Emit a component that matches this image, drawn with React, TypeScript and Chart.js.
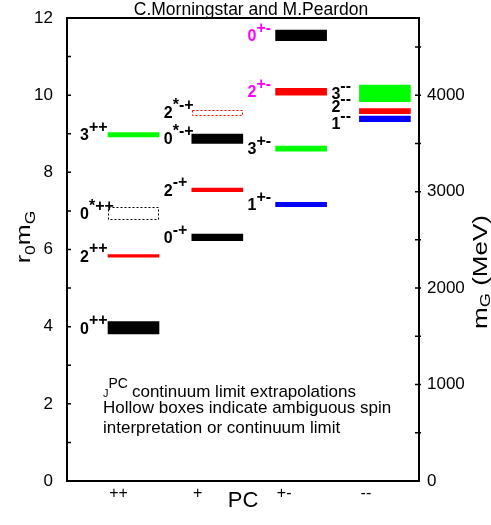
import React, { useEffect, useRef } from "react";
import { Chart, registerables } from "chart.js";

Chart.register(...registerables);

// ---------- data ----------
const CATEGORIES = ["++", "+", "+-", "--"];
const STATE_COLUMN = [1, 1, 1, 1, 2, 2, 2, 2, 3, 3, 3, 3, 4, 4, 4];
const STATE_J = ["0", "2", "0", "3", "0", "2", "0", "2", "1", "3", "2", "0", "1", "2", "3"];
const STATE_PC = ["++", "++", "*++", "++", "-+", "-+", "*-+", "*-+", "+-", "+-", "+-", "+-", "--", "--", "--"];
const STATE_LOW = [3.81, 5.8, 6.77, 8.92, 6.23, 7.5, 8.75, 9.5, 7.11, 8.55, 10.0, 11.41, 9.31, 9.52, 9.83];
const STATE_HIGH = [4.13, 5.87, 7.09, 9.03, 6.4, 7.59, 8.99, 9.62, 7.22, 8.68, 10.18, 11.69, 9.46, 9.65, 10.26];
const STATE_HOLLOW = [false, false, true, false, false, false, false, true, false, false, false, false, false, false, false];
const STATE_EXOTIC = [false, false, false, false, false, false, false, false, false, false, true, true, false, false, false];

const R0_MAX = 12;
const R0_TICKS = [0, 2, 4, 6, 8, 10, 12];
const MEV_PER_R0 = 400;
const MEV_TICKS = [0, 1000, 2000, 3000, 4000];
const TITLE = "C.Morningstar and M.Peardon";
const NOTE_LINE1 = "continuum limit extrapolations";
const NOTE_LINES = ["Hollow boxes indicate ambiguous spin", "interpretation or continuum limit"];

// ---------- styles ----------
const FONT = "'Liberation Sans', Arial, Helvetica, sans-serif";
const J_COLOR: Record<string, string> = { "0": "#000000", "1": "#0000ff", "2": "#ff0000", "3": "#00ff00" };
const EXOTIC_COLOR = "#ff00ff";

type Part = { text: string; size: number; dy: number };

function drawRotated(ctx: CanvasRenderingContext2D, parts: Part[], baseX: number, cy: number, stretch: number) {
  ctx.save();
  ctx.translate(baseX, cy);
  ctx.rotate(-Math.PI / 2);
  ctx.scale(stretch, 1);
  ctx.textAlign = "left";
  ctx.textBaseline = "alphabetic";
  let total = 0;
  const widths = parts.map((p) => {
    ctx.font = `${p.size}px ${FONT}`;
    const w = ctx.measureText(p.text).width;
    total += w;
    return w;
  });
  let x = -total / 2;
  parts.forEach((p, i) => {
    ctx.font = `${p.size}px ${FONT}`;
    ctx.fillText(p.text, x, p.dy);
    x += widths[i];
  });
  ctx.restore();
}

const overlay = {
  id: "overlay",
  afterDatasetsDraw(chart: any) {
    const ctx: CanvasRenderingContext2D = chart.ctx;
    const meta = chart.getDatasetMeta(0);
    ctx.save();
    ctx.lineWidth = 1;
    ctx.setLineDash([2, 2]);
    meta.data.forEach((el: any, i: number) => {
      if (!STATE_HOLLOW[i]) return;
      const { x, y, base, width } = el.getProps(["x", "y", "base", "width"], true);
      const top = Math.min(y, base);
      const h = Math.abs(base - y);
      ctx.strokeStyle = J_COLOR[STATE_J[i]];
      ctx.strokeRect(Math.round(x - width / 2) + 0.5, Math.round(top) + 0.5, Math.round(width) - 1, Math.round(h));
    });
    ctx.restore();
  },
  afterDraw(chart: any) {
    const ctx: CanvasRenderingContext2D = chart.ctx;
    const a = chart.chartArea;
    const ys = chart.scales.y;
    const y2 = chart.scales.y2;
    const meta = chart.getDatasetMeta(0);
    ctx.save();
    ctx.fillStyle = "#000";
    ctx.strokeStyle = "#000";

    // frame
    ctx.lineWidth = 2;
    ctx.strokeRect(a.left, a.top, a.right - a.left, a.bottom - a.top);

    // inward ticks
    ctx.lineWidth = 1.5;
    ctx.beginPath();
    for (let v = 1; v < R0_MAX; v++) {
      const p = ys.getPixelForValue(v);
      ctx.moveTo(a.left, p);
      ctx.lineTo(a.left + 4, p);
    }
    for (let v = 500; v < R0_MAX * MEV_PER_R0; v += 500) {
      const p = y2.getPixelForValue(v);
      ctx.moveTo(a.right - 4, p);
      ctx.lineTo(a.right + 2, p);
    }
    ctx.stroke();

    // state labels
    const items = meta.data.map((el: any, i: number) => {
      const { x, y, base, width } = el.getProps(["x", "y", "base", "width"], true);
      return { i, col: STATE_COLUMN[i], x: x - width / 2 - 28, orig: (y + base) / 2, pos: (y + base) / 2 };
    });
    const GAP = 17;
    for (let c = 1; c <= CATEGORIES.length; c++) {
      const g = items.filter((it: any) => it.col === c).sort((p: any, q: any) => p.orig - q.orig);
      for (let k = 1; k < g.length; k++) {
        if (g[k].pos - g[k - 1].pos < GAP) g[k].pos = g[k - 1].pos + GAP;
      }
      let start = 0;
      for (let k = 1; k <= g.length; k++) {
        if (k === g.length || g[k].pos - g[k - 1].pos > GAP + 0.01) {
          const cl = g.slice(start, k);
          if (cl.length > 1) {
            const d = cl.reduce((s: number, it: any) => s + it.orig - it.pos, 0) / cl.length;
            cl.forEach((it: any) => (it.pos += d));
          }
          start = k;
        }
      }
    }
    items.forEach((it: any) => {
      ctx.fillStyle = STATE_EXOTIC[it.i] ? EXOTIC_COLOR : "#000";
      ctx.textAlign = "left";
      ctx.textBaseline = "alphabetic";
      ctx.font = `bold 16px ${FONT}`;
      const base = it.pos + 5.7;
      ctx.fillText(STATE_J[it.i], it.x, base);
      const w = ctx.measureText(STATE_J[it.i]).width;
      ctx.fillText(STATE_PC[it.i], it.x + w, base - 8.2);
    });

    ctx.fillStyle = "#000";
    // title
    ctx.textAlign = "center";
    ctx.font = `17.5px ${FONT}`;
    ctx.fillText(TITLE, (a.left + a.right) / 2 + 8, 15);

    // x title
    ctx.font = `22px ${FONT}`;
    ctx.fillText("PC", (a.left + a.right) / 2, a.bottom + 26);

    // note
    ctx.textAlign = "left";
    const nx = a.left + 36;
    ctx.font = `11px ${FONT}`;
    ctx.fillText("J", nx, a.bottom - 84);
    const jw = ctx.measureText("J").width;
    ctx.font = `14px ${FONT}`;
    ctx.fillText("PC", nx + jw, a.bottom - 93);
    const pw = ctx.measureText("PC").width;
    ctx.font = `17px ${FONT}`;
    ctx.fillText(NOTE_LINE1, nx + jw + pw + 4, a.bottom - 84);
    NOTE_LINES.forEach((t, k) => ctx.fillText(t, nx, a.bottom - 68 + k * 20));

    // axis titles
    drawRotated(
      ctx,
      [
        { text: "r", size: 20, dy: 0 },
        { text: "0", size: 14, dy: 5 },
        { text: "m", size: 20, dy: 0 },
        { text: "G", size: 14, dy: 5 },
      ],
      30,
      237,
      1.25
    );
    drawRotated(
      ctx,
      [
        { text: "m", size: 20, dy: 0 },
        { text: "G", size: 14, dy: 3 },
        { text: " (MeV)", size: 20, dy: 0 },
      ],
      487,
      272,
      1.3
    );
    ctx.restore();
  },
};

export default function App() {
  const ref = useRef<HTMLCanvasElement>(null);
  useEffect(() => {
    const chart = new Chart(ref.current as HTMLCanvasElement, {
      type: "bar",
      data: {
        datasets: [
          {
            data: STATE_LOW.map((lo, i) => ({ x: STATE_COLUMN[i], y: [lo, STATE_HIGH[i]] })) as any,
            backgroundColor: STATE_J.map((j, i) => (STATE_HOLLOW[i] ? "rgba(0,0,0,0)" : J_COLOR[j])),
            borderWidth: 0,
            barThickness: 51,
          },
        ],
      },
      options: {
        animation: false,
        responsive: true,
        maintainAspectRatio: false,
        events: [],
        layout: { padding: { top: 18, left: 0, right: 0, bottom: 0 } },
        plugins: { legend: { display: false }, title: { display: false }, tooltip: { enabled: false } },
        scales: {
          x: {
            type: "linear",
            min: 0.2064,
            max: 4.4069,
            offset: false,
            grid: { display: false, drawTicks: false, offset: false },
            border: { display: false },
            afterBuildTicks: (s: any) => {
              s.ticks = CATEGORIES.map((_, i) => ({ value: i + 1 - 0.29 }));
            },
            afterFit: (s: any) => {
              s.height = 44;
              s.paddingLeft = 0;
              s.paddingRight = 0;
            },
            ticks: {
              align: "start",
              autoSkip: false,
              maxRotation: 0,
              padding: 3,
              color: "#000",
              font: { size: 16, family: FONT },
              callback: (_v: any, i: number) => CATEGORIES[i],
            },
          } as any,
          y: {
            type: "linear",
            position: "left",
            min: 0,
            max: R0_MAX,
            grid: { display: false, drawTicks: false },
            border: { display: false },
            afterBuildTicks: (s: any) => {
              s.ticks = R0_TICKS.map((v) => ({ value: v }));
            },
            afterFit: (s: any) => {
              s.width = 67;
              s.paddingTop = 0;
              s.paddingBottom = 0;
            },
            ticks: { autoSkip: false, padding: 14, color: "#000", font: { size: 17, family: FONT } },
          } as any,
          y2: {
            type: "linear",
            position: "right",
            min: 0,
            max: R0_MAX * MEV_PER_R0,
            grid: { display: false, drawTicks: false },
            border: { display: false },
            afterBuildTicks: (s: any) => {
              s.ticks = MEV_TICKS.map((v) => ({ value: v }));
            },
            afterFit: (s: any) => {
              s.width = 72;
              s.paddingTop = 0;
              s.paddingBottom = 0;
            },
            ticks: {
              autoSkip: false,
              padding: 8,
              color: "#000",
              font: { size: 17, family: FONT },
              callback: (v: any) => String(v),
            },
          } as any,
        },
      },
      plugins: [overlay as any],
    });
    return () => chart.destroy();
  }, []);
  return (
    <div style={{ position: "fixed", left: 0, top: 0, width: 491, height: 525, background: "#fff" }}>
      <canvas ref={ref} />
    </div>
  );
}
